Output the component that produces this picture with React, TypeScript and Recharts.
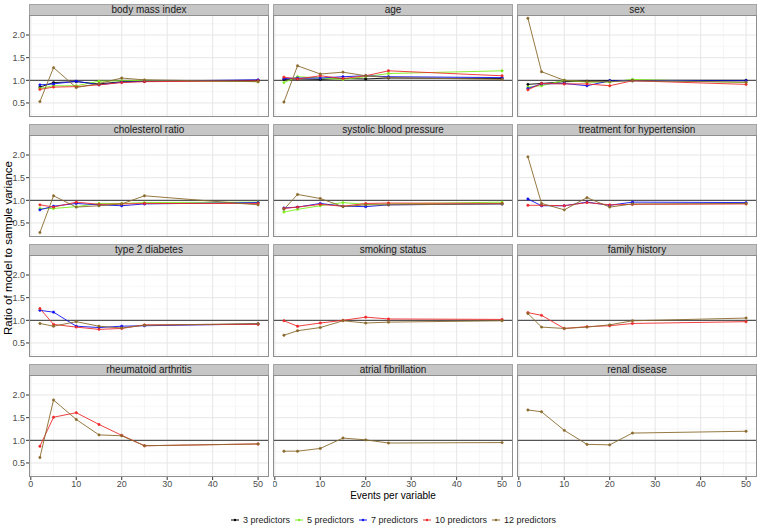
import React from "react";
import { LineChart, Line, XAxis, YAxis, CartesianGrid, ReferenceLine } from "recharts";

// Events per variable (x positions of every point)
const EPV = [2, 5, 10, 15, 20, 25, 50];
const X_TICKS = [0, 10, 20, 30, 40, 50];
const Y_TICKS = [0.5, 1.0, 1.5, 2.0];
const X_MINOR = [5, 15, 25, 35, 45];
const Y_MINOR = [0.25, 0.75, 1.25, 1.75, 2.25];

const SERIES_KEYS = ["p3", "p5", "p7", "p10", "p12"];
const SERIES_NAMES = ["3 predictors", "5 predictors", "7 predictors", "10 predictors", "12 predictors"];
const SERIES_COLORS = ["#000000", "#7CEE1A", "#1010F0", "#EE2A2A", "#8A6A2C"];

// body mass index
const bmiP3 = [0.85, 0.95, 0.97, 0.92, 0.97, 0.98, 1.0];
const bmiP5 = [0.82, 0.88, 0.88, 0.98, 0.99, 1.0, 0.97];
const bmiP7 = [0.9, 0.92, 0.98, 0.9, 0.96, 0.98, 1.01];
const bmiP10 = [0.8, 0.85, 0.86, 0.9, 0.95, 0.97, 0.99];
const bmiP12 = [0.53, 1.28, 0.84, 0.93, 1.05, 1.01, 0.97];
// age
const ageP3 = [1.02, 1.03, 1.02, 1.04, 1.03, 1.05, 1.04];
const ageP5 = [0.95, 1.08, 1.05, 1.02, 1.08, 1.15, 1.21];
const ageP7 = [1.04, 1.05, 1.05, 1.08, 1.1, 1.08, 1.06];
const ageP10 = [1.07, 1.03, 1.1, 1.04, 1.1, 1.21, 1.1];
const ageP12 = [0.52, 1.32, 1.14, 1.18, 1.1, 1.06, 1.02];
// sex
const sexP3 = [0.91, 0.93, 0.97, 0.98, 0.99, 1.0, 1.0];
const sexP5 = [0.85, 0.88, 1.0, 0.96, 0.96, 1.02, 0.95];
const sexP7 = [0.82, 0.92, 0.93, 0.88, 0.99, 0.99, 0.99];
const sexP10 = [0.79, 0.93, 0.92, 0.92, 0.88, 0.99, 0.91];
const sexP12 = [2.37, 1.19, 1.0, 0.97, 0.97, 0.99, 0.96];
// cholesterol ratio
const cholP5 = [0.82, 0.82, 0.86, 0.93, 0.93, 0.95, 0.96];
const cholP7 = [0.79, 0.87, 0.93, 0.9, 0.88, 0.92, 0.95];
const cholP10 = [0.9, 0.85, 0.96, 0.91, 0.92, 0.93, 0.93];
const cholP12 = [0.29, 1.1, 0.85, 0.88, 0.92, 1.1, 0.9];
// systolic blood pressure
const sbpP5 = [0.74, 0.8, 0.88, 0.95, 0.91, 0.92, 0.96];
const sbpP7 = [0.83, 0.85, 0.93, 0.87, 0.86, 0.9, 0.92];
const sbpP10 = [0.82, 0.85, 0.91, 0.87, 0.93, 0.94, 0.93];
const sbpP12 = [0.8, 1.13, 1.04, 0.86, 0.9, 0.9, 0.92];
// treatment for hypertension
const htnP7 = [1.03, 0.88, 0.88, 0.96, 0.89, 0.96, 0.95];
const htnP10 = [0.89, 0.89, 0.88, 0.95, 0.9, 0.91, 0.92];
const htnP12 = [1.96, 0.93, 0.79, 1.06, 0.85, 0.92, 0.93];
// type 2 diabetes
const t2dP7 = [1.22, 1.18, 0.87, 0.84, 0.87, 0.88, 0.92];
const t2dP10 = [1.26, 0.91, 0.85, 0.8, 0.82, 0.9, 0.91];
const t2dP12 = [0.93, 0.87, 0.97, 0.87, 0.83, 0.89, 0.93];
// smoking status
const smkP10 = [0.99, 0.87, 0.94, 1.0, 1.07, 1.03, 1.02];
const smkP12 = [0.67, 0.77, 0.84, 0.99, 0.94, 0.96, 0.99];
// family history
const famP10 = [1.17, 1.11, 0.82, 0.86, 0.88, 0.93, 0.97];
const famP12 = [1.15, 0.85, 0.82, 0.85, 0.9, 0.99, 1.05];
// rheumatoid arthritis
const raP10 = [0.87, 1.51, 1.61, 1.35, 1.11, 0.88, 0.92];
const raP12 = [0.62, 1.89, 1.46, 1.12, 1.1, 0.88, 0.92];
// atrial fibrillation
const afP12 = [0.76, 0.76, 0.82, 1.05, 1.01, 0.94, 0.95];
// renal disease
const renalP12 = [1.67, 1.63, 1.22, 0.91, 0.9, 1.16, 1.2];

const PANEL_TITLES = [
  "body mass index", "age", "sex",
  "cholesterol ratio", "systolic blood pressure", "treatment for hypertension",
  "type 2 diabetes", "smoking status", "family history",
  "rheumatoid arthritis", "atrial fibrillation", "renal disease",
];

const PANEL_SERIES: Record<string, number[] | undefined>[] = [
  { p3: bmiP3, p5: bmiP5, p7: bmiP7, p10: bmiP10, p12: bmiP12 },
  { p3: ageP3, p5: ageP5, p7: ageP7, p10: ageP10, p12: ageP12 },
  { p3: sexP3, p5: sexP5, p7: sexP7, p10: sexP10, p12: sexP12 },
  { p5: cholP5, p7: cholP7, p10: cholP10, p12: cholP12 },
  { p5: sbpP5, p7: sbpP7, p10: sbpP10, p12: sbpP12 },
  { p7: htnP7, p10: htnP10, p12: htnP12 },
  { p7: t2dP7, p10: t2dP10, p12: t2dP12 },
  { p10: smkP10, p12: smkP12 },
  { p10: famP10, p12: famP12 },
  { p10: raP10, p12: raP12 },
  { p12: afP12 },
  { p12: renalP12 },
];

const FONT = '"Liberation Sans", Arial, Helvetica, sans-serif';
const COL_X = [29, 273, 517];
const PANEL_W = 240;
const ROW_Y0 = 4;
const ROW_STEP = 120;
const STRIP_H = 12;
const PLOT_H = 101;
const Y_AXIS_W = 29;
const X_AXIS_H = 14;
const X_DOMAIN: [number, number] = [-0.4, 52.4];
const Y_DOMAIN: [number, number] = [0.19, 2.42];

function Panel({ index }: { index: number }) {
  const col = index % 3;
  const row = Math.floor(index / 3);
  const series = PANEL_SERIES[index];
  const data = EPV.map((x, i) => {
    const d: Record<string, number> = { x };
    SERIES_KEYS.forEach((k) => {
      const arr = series[k];
      if (arr) d[k] = arr[i];
    });
    return d;
  });
  const showY = col === 0;
  const showX = row === 3;
  const top = ROW_Y0 + row * ROW_STEP;
  const chartLeft = showY ? COL_X[col] - Y_AXIS_W : COL_X[col];
  const chartW = showY ? PANEL_W + Y_AXIS_W : PANEL_W;
  const chartH = showX ? PLOT_H + X_AXIS_H : PLOT_H;
  const tickStyle = { fontSize: 9, fill: "#4D4D4D", fontFamily: FONT };
  return (
    <>
      <div
        style={{
          position: "absolute",
          left: COL_X[col],
          top,
          width: PANEL_W,
          height: STRIP_H,
          background: "#C6C6C6",
          border: "1px solid #A4A4A4",
          boxSizing: "border-box",
          fontFamily: FONT,
          fontSize: 10,
          lineHeight: `${STRIP_H - 2}px`,
          textAlign: "center",
          color: "#1A1A1A",
        }}
      >
        {PANEL_TITLES[index]}
      </div>
      <div style={{ position: "absolute", left: chartLeft, top: top + STRIP_H }}>
        <LineChart width={chartW} height={chartH} data={data} margin={{ top: 0, right: 0, bottom: 0, left: 0 }}>
          <CartesianGrid
            stroke="#F0F0F0"
            strokeWidth={0.6}
            horizontalValues={Y_MINOR}
            verticalValues={X_MINOR}
          />
          <CartesianGrid
            stroke="#E6E6E6"
            strokeWidth={1}
            horizontalValues={Y_TICKS}
            verticalValues={X_TICKS}
          />
          <XAxis
            dataKey="x"
            type="number"
            domain={X_DOMAIN}
            ticks={X_TICKS}
            allowDataOverflow
            hide={!showX}
            height={X_AXIS_H}
            axisLine={false}
            tickLine={{ stroke: "#333333" }}
            tickSize={3}
            tickMargin={1}
            tick={tickStyle}
            interval={0}
          />
          <YAxis
            type="number"
            domain={Y_DOMAIN}
            ticks={Y_TICKS}
            allowDataOverflow
            hide={!showY}
            width={Y_AXIS_W}
            axisLine={false}
            tickLine={{ stroke: "#333333" }}
            tickSize={3}
            tickMargin={1}
            tick={tickStyle}
            tickFormatter={(v: number) => v.toFixed(1)}
            interval={0}
          />
          <ReferenceLine y={1} stroke="#333333" strokeWidth={1} />
          {SERIES_KEYS.map((k, si) =>
            series[k] ? (
              <Line
                key={k}
                dataKey={k}
                type="linear"
                stroke={SERIES_COLORS[si]}
                strokeWidth={0.9}
                dot={{ r: 1.2, fill: SERIES_COLORS[si], stroke: SERIES_COLORS[si], strokeWidth: 0.5 }}
                activeDot={false}
                isAnimationActive={false}
              />
            ) : null
          )}
        </LineChart>
      </div>
      <div
        style={{
          position: "absolute",
          left: COL_X[col],
          top: top + STRIP_H - 1,
          width: PANEL_W,
          height: PLOT_H + 1,
          border: "1px solid #8E8E8E",
          boxSizing: "border-box",
          pointerEvents: "none",
        }}
      />
    </>
  );
}

export default function App() {
  return (
    <div
      style={{
        position: "absolute",
        left: 0,
        top: 0,
        width: 758,
        height: 527,
        background: "#FFFFFF",
        overflow: "hidden",
        fontFamily: FONT,
      }}
    >
      {PANEL_TITLES.map((_, i) => (
        <Panel key={i} index={i} />
      ))}
      <div
        style={{
          position: "absolute",
          left: 8 - 150,
          top: 248 - 8,
          width: 300,
          height: 16,
          lineHeight: "16px",
          textAlign: "center",
          fontSize: 11.5,
          color: "#000",
          transform: "rotate(-90deg)",
        }}
      >
        Ratio of model to sample variance
      </div>
      <div
        style={{
          position: "absolute",
          left: 393 - 150,
          top: 489,
          width: 300,
          height: 14,
          lineHeight: "14px",
          textAlign: "center",
          fontSize: 10,
          color: "#000",
        }}
      >
        Events per variable
      </div>
      <div
        style={{
          position: "absolute",
          left: 0,
          top: 513,
          width: 790,
          height: 14,
          display: "flex",
          justifyContent: "center",
          alignItems: "center",
          fontSize: 9,
          color: "#1A1A1A",
        }}
      >
        {SERIES_NAMES.map((name, i) => (
          <div key={name} style={{ display: "flex", alignItems: "center", marginRight: 4 }}>
            <svg width={10} height={10} style={{ marginRight: 3 }}>
              <line x1={1} y1={5} x2={9} y2={5} stroke={SERIES_COLORS[i]} strokeWidth={1} />
              <circle cx={5} cy={5} r={1.2} fill={SERIES_COLORS[i]} />
            </svg>
            <span>{name}</span>
          </div>
        ))}
      </div>
    </div>
  );
}
